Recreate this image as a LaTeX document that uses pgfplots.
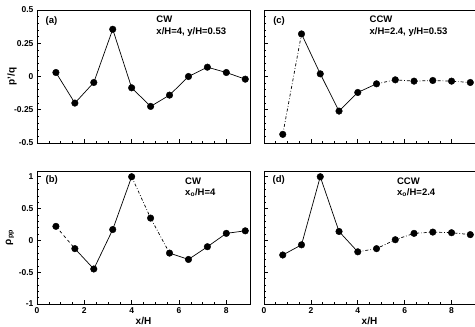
\documentclass[border=0pt]{standalone}
\usepackage{fontspec}
\setmainfont{Liberation Sans}
\usepackage{pgfplots}
\pgfplotsset{compat=1.18}
\pgfplotsset{
 pan/.style={scale only axis, anchor=south west, height=133pt,
   xmin=0, xmax=9, xtick={0,2,4,6,8}, minor x tick num=3,
   tick align=inside, tick pos=left,
   axis line style={line width=0.9pt},
   major tick length=4pt, minor tick length=2pt,
   every tick/.style={black, line width=0.6pt},
   tick label style={font=\bfseries\fontsize{8.5}{9}\selectfont},
   /pgf/number format/assume math mode=true,
   every axis y label/.style={at={(rel axis cs:0,0.5)}, rotate=90, anchor=center, font=\bfseries\fontsize{10}{11}\selectfont},
   every axis x label/.style={at={(rel axis cs:0.5,0)}, anchor=center, yshift=-17pt, font=\bfseries\fontsize{10}{11}\selectfont},
 },
 ptop/.style={ymin=-0.5, ymax=0.5, ytick={-0.5,-0.25,0,0.25,0.5}, minor y tick num=4, xticklabels={}},
 pbot/.style={ymin=-1, ymax=1.09, ytick={-1,-0.5,0,0.5,1}, minor y tick num=4, xlabel={x/H}},
 mk/.style={only marks, black, mark=*, mark size=3.3pt},
 ln/.style={black, line width=0.7pt, no marks},
}
\tikzset{ann/.style={anchor=north west, font=\bfseries\fontsize{9.5}{10.5}\selectfont, inner sep=0pt, align=left}}
\begin{document}
\begin{tikzpicture}
\useasboundingbox (0,0) rectangle (475pt,327pt);
% (a)
\begin{axis}[pan, ptop, at={(37pt,184pt)}, width=213pt, ylabel={p'/q}, ylabel style={yshift=25pt}]
\addplot[ln] coordinates {(0.8,0.03)(1.6,-0.2)(2.4,-0.045)(3.2,0.355)(4.0,-0.085)(4.8,-0.225)(5.6,-0.14)(6.4,0.0)(7.2,0.07)(8.0,0.03)(8.8,-0.02)};
\addplot[mk] coordinates {(0.8,0.03)(1.6,-0.2)(2.4,-0.045)(3.2,0.355)(4.0,-0.085)(4.8,-0.225)(5.6,-0.14)(6.4,0.0)(7.2,0.07)(8.0,0.03)(8.8,-0.02)};
\node[ann] at (rel axis cs:0.04,0.95) {(a)};
\node[ann] at (rel axis cs:0.56,0.955) {CW\\[1pt]x/H=4, y/H=0.53};
\end{axis}
% (c)
\begin{axis}[pan, ptop, at={(264pt,184pt)}, width=211pt, yticklabels={}]
\addplot[ln, dash dot] coordinates {(0.8,-0.435)(1.6,0.32)};
\addplot[ln] coordinates {(1.6,0.32)(2.4,0.02)(3.2,-0.26)(4.0,-0.12)(4.8,-0.055)};
\addplot[ln, dash dot] coordinates {(4.8,-0.055)(5.6,-0.025)(6.4,-0.035)(7.2,-0.03)(8.0,-0.035)(8.8,-0.045)};
\addplot[mk] coordinates {(0.8,-0.435)(1.6,0.32)(2.4,0.02)(3.2,-0.26)(4.0,-0.12)(4.8,-0.055)(5.6,-0.025)(6.4,-0.035)(7.2,-0.03)(8.0,-0.035)(8.8,-0.045)};
\node[ann] at (rel axis cs:0.043,0.95) {(c)};
\node[ann] at (rel axis cs:0.50,0.955) {CCW\\[1pt]x/H=2.4, y/H=0.53};
\end{axis}
% (b)
\begin{axis}[pan, pbot, at={(37pt,23pt)}, width=213pt, ylabel={ρ\textsubscript{pp}}, ylabel style={yshift=27pt}]
\addplot[ln, dashed] coordinates {(0.8,0.22)(1.6,-0.13)};
\addplot[ln] coordinates {(1.6,-0.13)(2.4,-0.45)(3.2,0.17)(4.0,1.0)};
\addplot[ln, dash dot] coordinates {(4.0,1.0)(4.8,0.35)(5.6,-0.2)};
\addplot[ln] coordinates {(5.6,-0.2)(6.4,-0.3)(7.2,-0.1)(8.0,0.11)(8.8,0.15)};
\addplot[mk] coordinates {(0.8,0.22)(1.6,-0.13)(2.4,-0.45)(3.2,0.17)(4.0,1.0)(4.8,0.35)(5.6,-0.2)(6.4,-0.3)(7.2,-0.1)(8.0,0.11)(8.8,0.15)};
\node[ann] at (rel axis cs:0.04,0.965) {(b)};
\node[ann] at (rel axis cs:0.695,0.95) {CW\\[1pt]x\textsubscript{o}/H=4};
\end{axis}
% (d)
\begin{axis}[pan, pbot, at={(264pt,23pt)}, width=211pt, yticklabels={}]
\addplot[ln] coordinates {(0.8,-0.23)(1.6,-0.07)(2.4,1.0)(3.2,0.14)(4.0,-0.18)};
\addplot[ln, dash dot] coordinates {(4.0,-0.18)(4.8,-0.13)(5.6,0.01)(6.4,0.11)(7.2,0.13)(8.0,0.12)(8.8,0.09)};
\addplot[mk] coordinates {(0.8,-0.23)(1.6,-0.07)(2.4,1.0)(3.2,0.14)(4.0,-0.18)(4.8,-0.13)(5.6,0.01)(6.4,0.11)(7.2,0.13)(8.0,0.12)(8.8,0.09)};
\node[ann] at (rel axis cs:0.04,0.965) {(d)};
\node[ann] at (rel axis cs:0.63,0.95) {CCW\\[1pt]x\textsubscript{o}/H=2.4};
\end{axis}
\end{tikzpicture}
\end{document}
